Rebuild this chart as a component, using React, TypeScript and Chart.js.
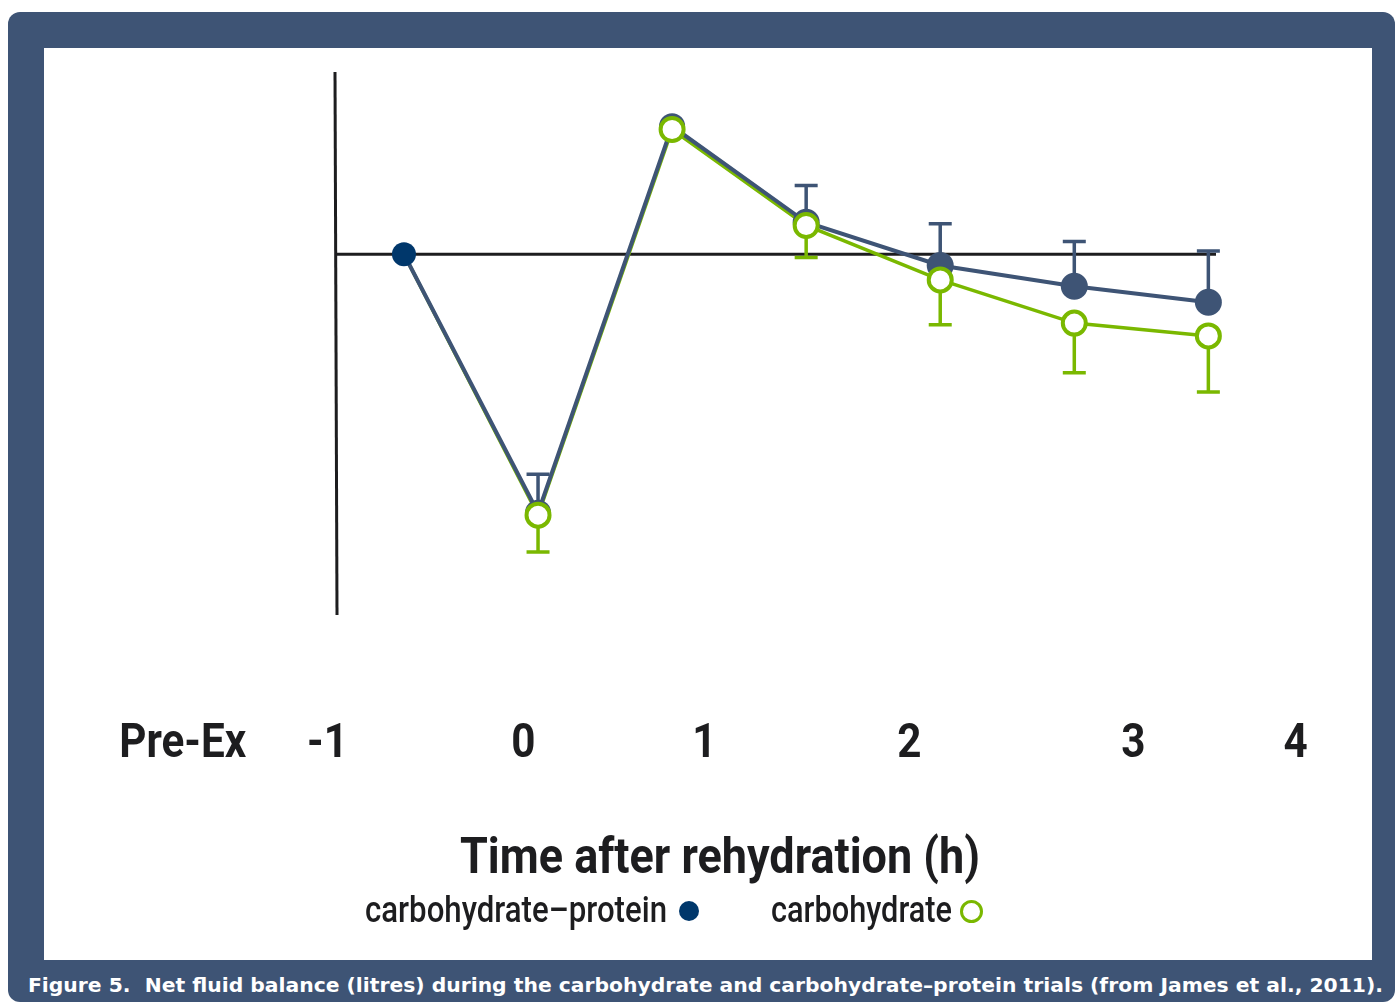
import React, { useEffect, useRef } from "react";
import { Chart, registerables } from "chart.js";

Chart.register(...registerables);

// ---- data ----
const pointIndex = [0, 1, 2, 3, 4, 5, 6];
const carbProtein = [0, -1.615, 0.8, 0.2, -0.07, -0.2, -0.3];
const carbProteinSE = [null, 0.24, null, 0.23, 0.26, 0.28, 0.32];
const carb = [0, -1.63, 0.78, 0.18, -0.16, -0.43, -0.51];
const carbSE = [null, 0.23, null, 0.2, 0.28, 0.31, 0.35];
const tickLabels = ["Pre-Ex", "-1", "0", "1", "2", "3", "4"];
const tickPositions = [-1.65, -0.57, 0.89, 2.24, 3.77, 5.44, 6.65];

// ---- styles ----
const FRAME = "#3e5475";
const DARK = "#3e5475";
const NAVY = "#00376b";
const GREEN = "#7ab800";
const AXIS = "#1d1d1f";
const TEXT = "#1d1d1f";
const COND = "Roboto, 'Liberation Sans', sans-serif";
const CAPTION_FONT = "'DejaVu Sans', 'Liberation Sans', sans-serif";

let measureCtx: CanvasRenderingContext2D | null = null;
function measure(text: string, font: string) {
  if (!measureCtx) measureCtx = document.createElement("canvas").getContext("2d");
  const c = measureCtx as CanvasRenderingContext2D;
  c.font = font;
  const m = c.measureText(text);
  const size = parseFloat(font.match(/(\d+(?:\.\d+)?)px/)![1]);
  return {
    width: m.width,
    ascent: (m as any).fontBoundingBoxAscent ?? 0.93 * size,
    descent: (m as any).fontBoundingBoxDescent ?? 0.24 * size,
  };
}

function FitText(props: {
  text: string; left: number; baseline: number; width: number;
  size: number; weight: number; family: string; color: string;
}) {
  const { text, left, baseline, width, size, weight, family, color } = props;
  const font = `${weight} ${size}px ${family}`;
  const m = measure(text, font);
  const k = width / m.width;
  const top = baseline - ((size - (m.ascent + m.descent)) / 2 + m.ascent);
  return (
    <div
      style={{
        position: "absolute", left, top, fontFamily: family, fontWeight: weight, fontSize: size,
        lineHeight: `${size}px`, color, whiteSpace: "nowrap", transform: `scaleX(${k})`, transformOrigin: "0 0",
      }}
    >
      {text}
    </div>
  );
}

const overlayPlugin = {
  id: "overlay",
  beforeDatasetsDraw(chart: any) {
    const { ctx, chartArea, scales } = chart;
    const x = scales.x;
    const y = scales.y;
    ctx.save();
    ctx.strokeStyle = AXIS;
    ctx.lineWidth = 3;
    ctx.beginPath();
    ctx.moveTo(chartArea.left - 1, chartArea.top);
    ctx.lineTo(chartArea.left + 1, chartArea.bottom);
    ctx.stroke();
    const y0 = y.getPixelForValue(0);
    ctx.beginPath();
    ctx.moveTo(chartArea.left, y0);
    ctx.lineTo(chartArea.right, y0);
    ctx.stroke();
    const drawBars = (vals: number[], se: (number | null)[], dir: number, color: string) => {
      ctx.strokeStyle = color;
      ctx.lineWidth = 3.5;
      vals.forEach((v, i) => {
        const e = se[i];
        if (e == null) return;
        const px = x.getPixelForValue(pointIndex[i]);
        const pv = y.getPixelForValue(v);
        const pe = y.getPixelForValue(v + dir * e);
        ctx.beginPath();
        ctx.moveTo(px, pv);
        ctx.lineTo(px, pe);
        ctx.moveTo(px - 11.5, pe);
        ctx.lineTo(px + 11.5, pe);
        ctx.stroke();
      });
    };
    drawBars(carbProtein, carbProteinSE, 1, DARK);
    drawBars(carb, carbSE, -1, GREEN);
    ctx.restore();
  },
  afterDraw(chart: any) {
    const { ctx, scales } = chart;
    const x = scales.x;
    ctx.save();
    ctx.fillStyle = TEXT;
    ctx.font = `700 48px ${COND}`;
    const k = 127 / ctx.measureText(tickLabels[0]).width;
    ctx.textAlign = "center";
    ctx.textBaseline = "alphabetic";
    tickLabels.forEach((t, i) => {
      ctx.save();
      ctx.translate(x.getPixelForValue(tickPositions[i]), 709);
      ctx.scale(k, 1);
      ctx.fillText(t, 0, 0);
      ctx.restore();
    });
    ctx.restore();
  },
};

export default function App() {
  const ref = useRef<HTMLCanvasElement>(null);
  useEffect(() => {
    const toXY = (vals: number[]) => vals.map((v, i) => ({ x: pointIndex[i], y: v }));
    const chart = new Chart(ref.current as HTMLCanvasElement, {
      type: "line",
      data: {
        datasets: [
          {
            label: "carbohydrate line",
            data: toXY(carb),
            borderColor: GREEN,
            borderWidth: 3.5,
            pointRadius: 0,
            tension: 0,
            fill: false,
            order: 4,
            clip: false,
          } as any,
          {
            label: "carbohydrate–protein",
            data: toXY(carbProtein),
            borderColor: DARK,
            borderWidth: 4,
            pointRadius: [12, 13, 13, 13.5, 13.5, 13.5, 13.5],
            pointBackgroundColor: pointIndex.map((i) => (i === 0 ? NAVY : DARK)),
            pointBorderWidth: 0,
            tension: 0,
            fill: false,
            order: 3,
            clip: false,
          } as any,
          {
            label: "carbohydrate",
            data: toXY(carb),
            showLine: false,
            borderColor: GREEN,
            backgroundColor: "#ffffff",
            pointRadius: pointIndex.map((i) => (i === 0 ? 0 : 11.5)),
            pointBorderWidth: 4,
            pointBorderColor: GREEN,
            pointBackgroundColor: "#ffffff",
            order: 2,
            clip: false,
          } as any,
        ],
      },
      options: {
        animation: false,
        responsive: false,
        maintainAspectRatio: false,
        layout: { padding: { left: 292, right: 156, top: 24, bottom: 345 } },
        plugins: { legend: { display: false }, tooltip: { enabled: false }, title: { display: false } },
        scales: {
          x: { type: "linear", min: -0.507, max: 6.057, display: false },
          y: { type: "linear", min: -2.254, max: 1.139, display: false },
        },
      },
      plugins: [overlayPlugin],
    });
    return () => chart.destroy();
  }, []);

  return (
    <div style={{ position: "fixed", left: 0, top: 0, width: 1395, height: 1003, overflow: "hidden", background: "#ffffff" }}>
      <div style={{ position: "absolute", left: 8, top: 12, width: 1387, height: 990, background: FRAME, borderRadius: 12 }} />
      <div style={{ position: "absolute", left: 44, top: 48, width: 1328, height: 912, background: "#ffffff" }}>
        <canvas ref={ref} width={1328} height={912} style={{ position: "absolute", left: 0, top: 0, width: 1328, height: 912 }} />
      </div>
      <FitText text="Time after rehydration (h)" left={460} baseline={873} width={520} size={50} weight={700} family={COND} color={TEXT} />
      <FitText text="carbohydrate–protein" left={365} baseline={922} width={302} size={36} weight={500} family={COND} color={TEXT} />
      <div style={{ position: "absolute", left: 679, top: 901, width: 20, height: 20, borderRadius: "50%", background: NAVY }} />
      <FitText text="carbohydrate" left={771} baseline={922} width={181} size={36} weight={500} family={COND} color={TEXT} />
      <div
        style={{
          position: "absolute", left: 960, top: 900, width: 17, height: 17, borderRadius: "50%",
          border: `3.5px solid ${GREEN}`, background: "#ffffff",
        }}
      />
      <FitText
        text={"Figure 5.\u00a0 Net fluid balance (litres) during the carbohydrate and carbohydrate–protein trials (from James et al., 2011)."}
        left={28} baseline={992} width={1355} size={19.5} weight={700} family={CAPTION_FONT} color="#ffffff"
      />
    </div>
  );
}
